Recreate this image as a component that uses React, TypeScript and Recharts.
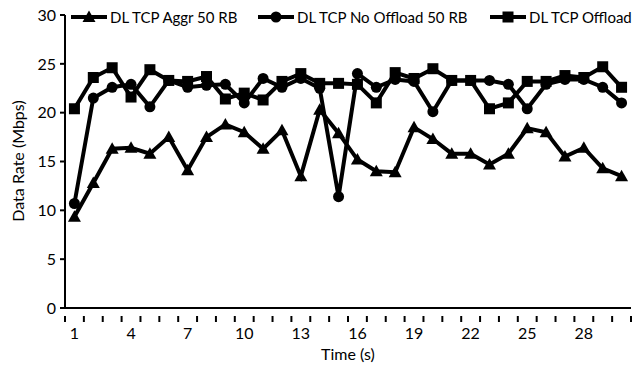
import React from 'react';
import { LineChart, Line, XAxis, YAxis } from 'recharts';

const times = [1, 2, 3, 4, 5, 6, 7, 8, 9, 10, 11, 12, 13, 14, 15, 16, 17, 18, 19, 20, 21, 22, 23, 24, 25, 26, 27, 28, 29, 30];
const aggr50 = [9.35, 12.8, 16.3, 16.4, 15.8, 17.5, 14.1, 17.5, 18.8, 18.0, 16.3, 18.2, 13.5, 20.3, 17.9, 15.2, 14.0, 13.9, 18.5, 17.3, 15.8, 15.8, 14.7, 15.8, 18.4, 18.0, 15.5, 16.4, 14.3, 13.5];
const noOffload50 = [10.7, 21.5, 22.6, 22.9, 20.6, 23.3, 22.6, 22.8, 22.9, 21.0, 23.5, 22.6, 23.5, 22.5, 11.4, 24.0, 22.6, 23.4, 23.2, 20.1, 23.3, 23.3, 23.3, 22.9, 20.4, 22.9, 23.4, 23.4, 22.6, 21.0];
const offload = [20.4, 23.6, 24.6, 21.6, 24.4, 23.3, 23.2, 23.7, 21.4, 22.0, 21.3, 23.2, 24.0, 23.0, 23.0, 22.9, 21.0, 24.1, 23.5, 24.5, 23.3, 23.3, 20.4, 21.0, 23.2, 23.2, 23.8, 23.6, 24.7, 22.6];
const xTickLabels = [1, 4, 7, 10, 13, 16, 19, 22, 25, 28];
const yTicks = [0, 5, 10, 15, 20, 25, 30];

const seriesNames = ['DL TCP Aggr 50 RB', 'DL TCP No Offload 50 RB', 'DL TCP Offload'];

const data = times.map((t, i) => ({
  t,
  aggr: aggr50[i],
  noOff: noOffload50[i],
  off: offload[i],
}));

const FONT = 'Lato, "Noto Sans", sans-serif';
const FS = 16;
const LEGEND_FS = 15;
const W = 634;
const H = 371;
const LEFT = 65;
const RIGHT = 3;
const STEP = (W - LEFT - RIGHT) / times.length;
const legendLeft = [70, 257, 489];

const Triangle = ({ cx, cy }: any) => (
  <polygon points={`${cx},${cy - 6.5} ${cx - 6.5},${cy + 5} ${cx + 6.5},${cy + 5}`} fill="#000" />
);
const Circle = ({ cx, cy }: any) => <circle cx={cx} cy={cy} r={5.5} fill="#000" />;
const Square = ({ cx, cy }: any) => <rect x={cx - 5.5} y={cy - 5.5} width={11} height={11} fill="#000" />;

const XTick = (props: any) => {
  const { x, y, payload, index } = props;
  const t = payload.value;
  return (
    <g>
      <line x1={x - STEP / 2} x2={x - STEP / 2} y1={y} y2={y + 6} stroke="#000" strokeWidth={2} />
      {index === times.length - 1 && (
        <line x1={x + STEP / 2} x2={x + STEP / 2} y1={y} y2={y + 6} stroke="#000" strokeWidth={2} />
      )}
      {xTickLabels.includes(t) && (
        <text x={x} y={y + 23} textAnchor="middle" fontFamily={FONT} fontSize={FS} fill="#000">
          {t}
        </text>
      )}
    </g>
  );
};

const icons = [Triangle, Circle, Square];

export default function App() {
  return (
    <div style={{ position: 'absolute', left: 0, top: 0, width: W, height: H, background: '#fff' }}>
      <LineChart width={W} height={H} data={data} margin={{ top: 15, right: RIGHT, left: 0, bottom: 8 }}>
        <XAxis
          dataKey="t"
          type="number"
          domain={[0.5, 30.5]}
          ticks={times}
          interval={0}
          height={55}
          tickLine={false}
          tick={<XTick />}
          axisLine={{ stroke: '#000', strokeWidth: 2 }}
          label={{ value: 'Time (s)', position: 'insideBottom', offset: 3, fill: '#000', fontFamily: FONT, fontSize: FS }}
        />
        <YAxis
          domain={[0, 30]}
          ticks={yTicks}
          width={LEFT}
          tickSize={5}
          tickMargin={4}
          axisLine={{ stroke: '#000', strokeWidth: 2 }}
          tickLine={{ stroke: '#000', strokeWidth: 2 }}
          tick={{ fill: '#000', fontFamily: FONT, fontSize: FS }}
          label={() => (
            <text
              x={17}
              y={161}
              transform="rotate(-90, 17, 161)"
              textAnchor="middle"
              dominantBaseline="central"
              fontFamily={FONT}
              fontSize={FS}
              fill="#000"
            >
              Data Rate (Mbps)
            </text>
          )}
        />
        <Line dataKey="aggr" stroke="#000" strokeWidth={4} dot={<Triangle />} isAnimationActive={false} />
        <Line dataKey="noOff" stroke="#000" strokeWidth={4} dot={<Circle />} isAnimationActive={false} />
        <Line dataKey="off" stroke="#000" strokeWidth={4} dot={<Square />} isAnimationActive={false} />
      </LineChart>
      {seriesNames.map((name, i) => {
        const Icon = icons[i];
        return (
          <div
            key={name}
            style={{
              position: 'absolute',
              left: legendLeft[i],
              top: 7,
              display: 'flex',
              alignItems: 'center',
              fontFamily: FONT,
              fontSize: LEGEND_FS,
              lineHeight: '20px',
              whiteSpace: 'nowrap',
            }}
          >
            <svg width={38} height={20}>
              <line x1={1} x2={37} y1={10} y2={10} stroke="#000" strokeWidth={4} />
              <Icon cx={19} cy={10} />
            </svg>
            <span style={{ marginLeft: 2 }}>{name}</span>
          </div>
        );
      })}
    </div>
  );
}
